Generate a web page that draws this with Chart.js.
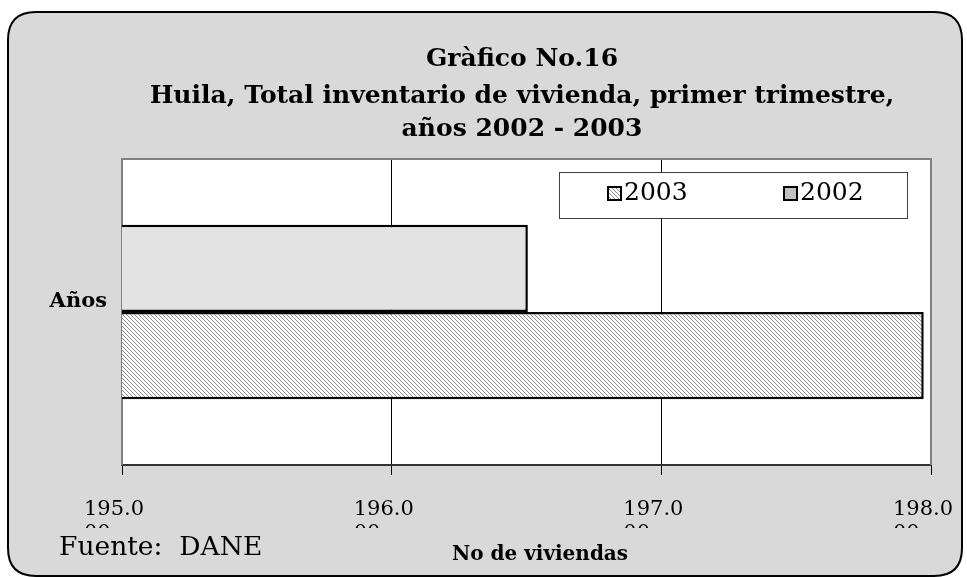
<!DOCTYPE html>
<html>
<head>
<meta charset="utf-8">
<script src="https://cdn.jsdelivr.net/npm/chart.js@4/dist/chart.umd.min.js"></script>
<style>
  html, body { margin: 0; padding: 0; background: #ffffff; }
  #wrap { width: 967px; height: 577px; position: relative; }
</style>
</head>
<body>
<div id="wrap"><canvas id="c" width="967" height="577"></canvas></div>
<script>
// ---- data ----
const titleLines = ['Gràfico No.16', 'Huila, Total inventario de vivienda, primer trimestre,', 'años 2002 - 2003'];
const categories = ['Años'];
const seriesNames = ['2002', '2003'];
const values2002 = [196.505];
const values2003 = [197.973];
const xTickValues = [195, 196, 197, 198];
const xTickLabels = ['195.000', '196.000', '197.000', '198.000'];
const xAxisTitle = 'No de viviendas';
const sourceNote = 'Fuente:  DANE';

// ---- patterns ----
function hatchPattern() {
  const c = document.createElement('canvas');
  c.width = 4; c.height = 4;
  const g = c.getContext('2d');
  g.fillStyle = '#ffffff';
  g.fillRect(0, 0, 4, 4);
  g.fillStyle = '#8c8c8c';
  for (let i = 0; i < 4; i++) g.fillRect(i, i, 1, 1);
  return g.createPattern(c, 'repeat');
}
const hatch = hatchPattern();
const colors2002 = '#e3e3e3';
const legend2002 = '#c0c0c0';

const framePlugin = {
  id: 'frame',
  beforeDraw(chart) {
    const ctx = chart.ctx, W = chart.width, H = chart.height;
    ctx.save();
    ctx.fillStyle = '#ffffff';
    ctx.fillRect(0, 0, W, H);
    const x0 = 8, y0 = 12, x1 = 962, y1 = 576, r = 28;
    ctx.beginPath();
    ctx.moveTo(x0 + r, y0);
    ctx.lineTo(x1 - r, y0);
    ctx.quadraticCurveTo(x1, y0, x1, y0 + r);
    ctx.lineTo(x1, y1 - r);
    ctx.quadraticCurveTo(x1, y1, x1 - r, y1);
    ctx.lineTo(x0 + r, y1);
    ctx.quadraticCurveTo(x0, y1, x0, y1 - r);
    ctx.lineTo(x0, y0 + r);
    ctx.quadraticCurveTo(x0, y0, x0 + r, y0);
    ctx.closePath();
    ctx.fillStyle = '#d9d9d9';
    ctx.fill();
    ctx.lineWidth = 2;
    ctx.strokeStyle = '#000000';
    ctx.stroke();
    const a = chart.chartArea;
    ctx.fillStyle = '#ffffff';
    ctx.fillRect(a.left, a.top, a.right - a.left, a.bottom - a.top);
    // title
    ctx.fillStyle = '#000000';
    ctx.textAlign = 'center';
    ctx.textBaseline = 'alphabetic';
    ctx.font = 'bold 25px "DejaVu Serif"';
    const ys = [66, 103, 136];
    titleLines.forEach((t, i) => ctx.fillText(t, 522, ys[i]));
    ctx.restore();
  },
  beforeDatasetsDraw(chart) {
    const ctx = chart.ctx, a = chart.chartArea;
    ctx.save();
    ctx.strokeStyle = '#808080';
    ctx.lineWidth = 2;
    ctx.beginPath();
    ctx.moveTo(a.left, a.bottom);
    ctx.lineTo(a.left, a.top);
    ctx.lineTo(a.right, a.top);
    ctx.lineTo(a.right, a.bottom);
    ctx.stroke();
    ctx.restore();
  },
  afterDraw(chart) {
    const ctx = chart.ctx;
    const xs = chart.scales.x;
    ctx.save();
    // x tick labels (wrapped, second line clipped as in the original)
    ctx.fillStyle = '#000000';
    ctx.textAlign = 'left';
    ctx.textBaseline = 'alphabetic';
    ctx.font = '21px "DejaVu Serif"';
    xTickValues.forEach((v, i) => {
      const px = xs.getPixelForValue(v) - 38;
      const lab = xTickLabels[i];
      ctx.fillText(lab.slice(0, 5), px, 515);
      ctx.save();
      ctx.beginPath();
      ctx.rect(0, 0, chart.width, 528);
      ctx.clip();
      ctx.fillText(lab.slice(5), px, 539);
      ctx.restore();
    });
    // axis title
    ctx.textAlign = 'center';
    ctx.font = 'bold 20px "DejaVu Serif"';
    ctx.fillText(xAxisTitle, 540, 560);
    // source
    ctx.textAlign = 'left';
    ctx.font = '26.5px "DejaVu Serif"';
    ctx.fillText(sourceNote, 59, 555);
    // legend box
    const lx = 559, ly = 172, lw = 348, lh = 46;
    ctx.fillStyle = '#ffffff';
    ctx.fillRect(lx, ly, lw, lh);
    ctx.strokeStyle = '#404040';
    ctx.lineWidth = 1;
    ctx.strokeRect(lx + 0.5, ly + 0.5, lw, lh);
    const items = [
      { label: chart.data.datasets[1].label, fill: hatch, x: 608 },
      { label: chart.data.datasets[0].label, fill: legend2002, x: 784 }
    ];
    items.forEach(it => {
      ctx.fillStyle = it.fill;
      ctx.fillRect(it.x, 187, 13, 13);
      ctx.strokeStyle = '#000000';
      ctx.lineWidth = 2;
      ctx.strokeRect(it.x, 187, 13, 13);
      ctx.fillStyle = '#000000';
      ctx.font = '25px "DejaVu Serif"';
      ctx.fillText(it.label, it.x + 16, 200);
    });
    ctx.restore();
  }
};

new Chart(document.getElementById('c'), {
  type: 'bar',
  data: {
    labels: categories,
    datasets: [
      { label: seriesNames[0], data: values2002, backgroundColor: colors2002, borderColor: '#000000', borderWidth: 2.5, borderSkipped: false },
      { label: seriesNames[1], data: values2003, backgroundColor: hatch, borderColor: '#000000', borderWidth: 2.5, borderSkipped: false }
    ]
  },
  options: {
    indexAxis: 'y',
    responsive: false,
    animation: false,
    devicePixelRatio: 1,
    layout: { padding: { top: 159, right: 36, bottom: 0, left: 0 } },
    datasets: { bar: { barPercentage: 1, categoryPercentage: 0.57 } },
    plugins: { legend: { display: false }, title: { display: false }, tooltip: { enabled: false } },
    scales: {
      x: {
        type: 'linear', min: 195, max: 198,
        ticks: { display: false, stepSize: 1 },
        grid: {
          color: (c) => (c.tick && (c.tick.value === 195 || c.tick.value === 198)) ? 'rgba(0,0,0,0)' : '#000000',
          tickColor: '#000000', lineWidth: 1, drawTicks: true, tickLength: 10
        },
        border: { display: true, color: '#333333', width: 2 },
        afterFit: (s) => { s.height = 112; }
      },
      y: {
        type: 'category',
        ticks: { color: '#000000', font: { family: 'DejaVu Serif', weight: 'bold', size: 21 }, padding: 15, labelOffset: -10 },
        grid: { display: false, drawTicks: false },
        border: { display: false },
        afterFit: (s) => { s.width = 122; }
      }
    }
  },
  plugins: [framePlugin]
});
</script>
</body>
</html>
